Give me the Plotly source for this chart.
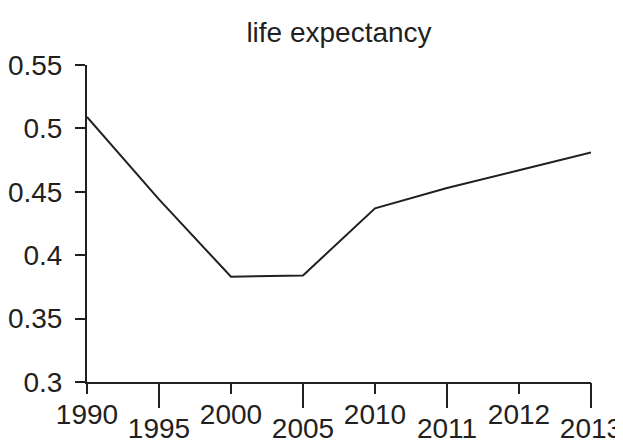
import plotly.graph_objects as go

years = ["1990", "1995", "2000", "2005", "2010", "2011", "2012", "2013"]
life_expectancy = [0.509, 0.444, 0.383, 0.384, 0.437, 0.453, 0.467, 0.481]
upper_ticks = ["1990", "2000", "2010", "2012"]
lower_ticks = ["1995", "2005", "2011", "2013"]
y_ticks = [0.3, 0.35, 0.4, 0.45, 0.5, 0.55]

INK = "#231f20"
FONT = "Liberation Sans, Arial, Helvetica, sans-serif"
FS = 28

# the page body adds an 8px offset; size the figure so the visible window matches
W, H = 615, 432

fig = go.Figure()
fig.add_trace(go.Scatter(x=years, y=life_expectancy, mode="lines",
                         line=dict(color=INK, width=2), showlegend=False,
                         xaxis="x", yaxis="y"))
fig.add_trace(go.Scatter(x=years, y=life_expectancy, mode="lines",
                         line=dict(color="rgba(0,0,0,0)", width=0), showlegend=False,
                         hoverinfo="skip", xaxis="x2", yaxis="y"))

common_x = dict(type="category", categoryorder="array", categoryarray=years,
                range=[0, 7], showgrid=False, zeroline=False, automargin=False,
                ticks="outside", tickcolor=INK, tickwidth=2, ticklabelstandoff=-4,
                tickfont=dict(family=FONT, size=FS, color=INK), tickmode="array")

fig.update_layout(
    width=W, height=H,
    margin=dict(l=79, r=32, t=57, b=58, autoexpand=False),
    paper_bgcolor="white", plot_bgcolor="white",
    title=dict(text="life expectancy", x=0.5, xref="paper", xanchor="center",
               y=0.943, yref="container", yanchor="middle", automargin=False,
               font=dict(family=FONT, size=FS, color=INK)),
    xaxis=dict(**common_x, tickvals=upper_ticks, ticklen=10,
               showline=True, linecolor=INK, linewidth=2),
    xaxis2=dict(**common_x, tickvals=lower_ticks, ticklen=25,
                overlaying="x", side="bottom", showline=False),
    yaxis=dict(range=[0.3, 0.55], tickvals=y_ticks, ticks="outside", ticklen=10,
               tickcolor=INK, tickwidth=2, showline=True, linecolor=INK, linewidth=2,
               showgrid=False, zeroline=False, automargin=False, ticklabelstandoff=7,
               tickfont=dict(family=FONT, size=FS, color=INK)),
)

fig.write_html("out.html")
